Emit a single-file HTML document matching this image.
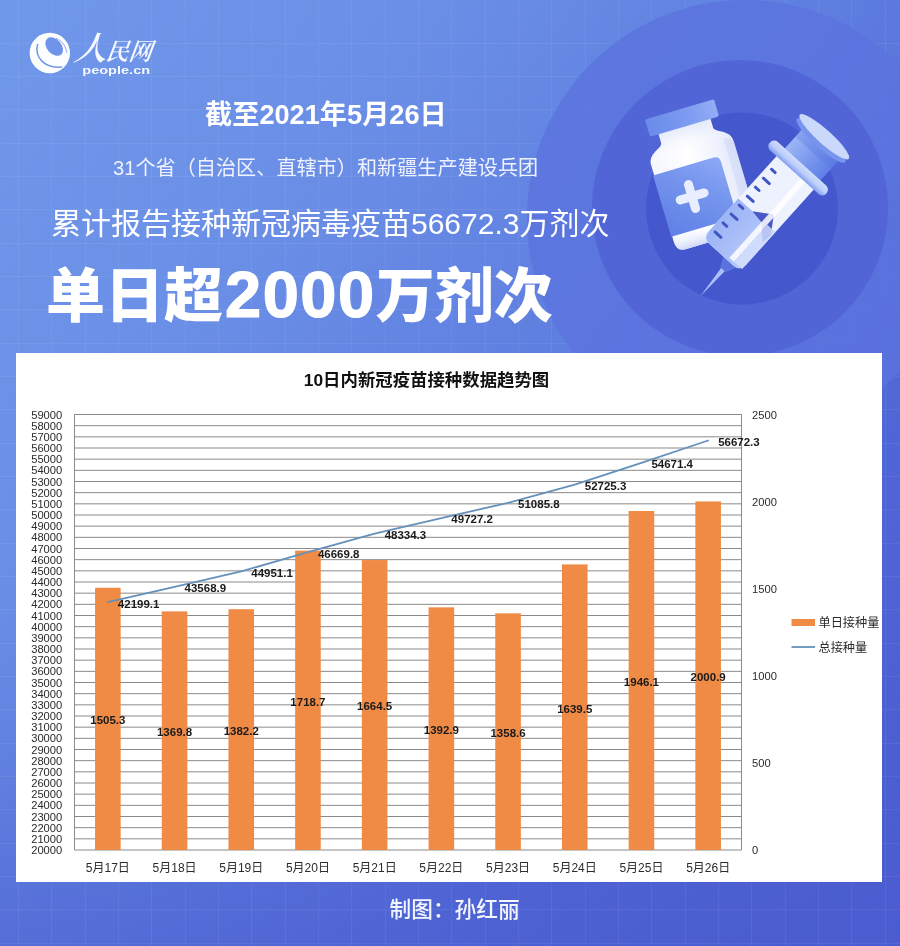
<!DOCTYPE html>
<html lang="zh-CN"><head><meta charset="utf-8"><title>新冠疫苗接种数据</title>
<style>
html,body{margin:0;padding:0}
body{width:900px;height:946px;overflow:hidden;position:relative;font-family:"Liberation Sans","Noto Sans CJK SC",sans-serif;
background:repeating-linear-gradient(to right,transparent 0,transparent 18px,rgba(255,255,255,.06) 18px,rgba(255,255,255,.06) 19px,transparent 19px,transparent 33.333px),repeating-linear-gradient(to bottom,transparent 0,transparent 9.5px,rgba(255,255,255,.06) 9.5px,rgba(255,255,255,.06) 10.5px,transparent 10.5px,transparent 33.333px),linear-gradient(to bottom,rgba(74,93,207,0) 65%,rgba(74,93,207,.1) 75%,rgba(74,93,207,.3) 88%,rgba(74,93,207,.55) 100%),linear-gradient(128deg,#7098ea 0%,#6a8ee6 28%,#5f7fe0 50%,#5166d6 75%,#4a5bcf 100%)}
.abs{position:absolute}
#h4 span{font-size:65px;letter-spacing:1.5px;-webkit-text-stroke:1.2px #fff;margin-left:2px}
svg{position:absolute;left:0;top:0}
.h{position:absolute;white-space:nowrap;color:#fff;line-height:1}
#h1{left:205px;top:101px;font-size:27.2px;font-weight:700}
#h2{left:113px;top:158px;font-size:20.15px;font-weight:400;color:#eef2ff}
#h3{left:51px;top:209px;font-size:30px;font-weight:400}
#h4{left:46px;top:260px;font-size:59px;line-height:70px;height:70px;font-weight:900;font-family:"Liberation Sans","Noto Sans CJK SC",sans-serif}
#ft{left:389.5px;top:898.5px;font-size:21.7px;color:#f4f6ff;font-weight:500}
#panel{left:16px;top:353px;width:866px;height:529px;background:#fff}
.ax{font-size:11.2px;fill:#2b2b2b;font-family:"Liberation Sans",sans-serif}
.dl{font-size:11.5px;font-weight:700;fill:#1a1a1a;font-family:"Liberation Sans",sans-serif}
.xl{font-size:12px;fill:#2b2b2b;font-family:"Liberation Sans","Noto Sans CJK SC",sans-serif}
.lg{font-size:12.2px;fill:#2b2b2b;font-family:"Liberation Sans","Noto Sans CJK SC",sans-serif}
.ct{font-size:17.4px;font-weight:700;fill:#111;font-family:"Liberation Sans","Noto Sans CJK SC",sans-serif}
</style></head><body>
<svg width="900" height="946" viewBox="0 0 900 946">
<circle cx="745" cy="218" r="218" fill="#5b73de" opacity=".8"/>
<circle cx="740" cy="208" r="148" fill="#5165d7"/>
<circle cx="742" cy="208.5" r="96" fill="#4557cd"/>
<defs>
<linearGradient id="gCap" x1="0" y1="0" x2="1" y2="0"><stop offset="0" stop-color="#6a8beb"/><stop offset=".55" stop-color="#7b9af0"/><stop offset="1" stop-color="#93adf6"/></linearGradient>
<linearGradient id="gBody" x1="0" y1="0" x2="1" y2="0"><stop offset="0" stop-color="#f4f6ff"/><stop offset=".45" stop-color="#ffffff"/><stop offset=".8" stop-color="#eef1fd"/><stop offset="1" stop-color="#dfe5fa"/></linearGradient>
<linearGradient id="gBodyV" x1="0" y1="0" x2="0" y2="1"><stop offset="0" stop-color="#dfe6fb" stop-opacity=".9"/><stop offset=".25" stop-color="#ffffff" stop-opacity="0"/><stop offset=".85" stop-color="#ffffff" stop-opacity="0"/><stop offset="1" stop-color="#c9d4f8" stop-opacity=".9"/></linearGradient>
<linearGradient id="gLabel" x1="0" y1="1" x2="1" y2="0"><stop offset="0" stop-color="#5f80e5"/><stop offset=".6" stop-color="#7595ee"/><stop offset="1" stop-color="#8ea9f5"/></linearGradient>
<linearGradient id="gBarrel" x1="0" y1="0" x2="1" y2="0"><stop offset="0" stop-color="#9db5f6"/><stop offset=".5" stop-color="#a9bef8"/><stop offset="1" stop-color="#b9cbfa"/></linearGradient>
<linearGradient id="gRod" x1="0" y1="0" x2="1" y2="0"><stop offset="0" stop-color="#9db6f6"/><stop offset=".45" stop-color="#7f9cf0"/><stop offset="1" stop-color="#5f7fe6"/></linearGradient>
<linearGradient id="gFl" x1="0" y1="0" x2="0" y2="1"><stop offset="0" stop-color="#cfdcfc"/><stop offset=".55" stop-color="#bccdfa"/><stop offset="1" stop-color="#7f9cef"/></linearGradient>
</defs>
<g id="vial" transform="translate(679.4,109.3) rotate(-16.5)">
<path d="M-27 16 H27 V27 C27 33 43 33 43 46 V126 Q43 136 33 136 H-33 Q-43 136 -43 126 V46 C-43 33 -27 33 -27 27 Z" fill="url(#gBody)"/>
<path d="M-27 16 H27 V27 C27 33 43 33 43 46 V126 Q43 136 33 136 H-33 Q-43 136 -43 126 V46 C-43 33 -27 33 -27 27 Z" fill="url(#gBodyV)"/>
<path d="M-44 56 H19 Q25 56 25 62 V120 H-44 Z" fill="url(#gLabel)"/>
<path d="M34 40 C40 42 43 44 43 48 V126 Q43 132 39 134 H33 Z" fill="#cfd8f7" opacity=".55"/>
<rect x="-36" y="0" width="72" height="18" rx="2" fill="url(#gCap)"/>
<g fill="#e9eefe"><rect x="-29.5" y="82.7" width="34" height="9" rx="4.5"/><rect x="-17.2" y="70.2" width="9" height="34" rx="4.5"/></g>
</g>
<g id="syringe" transform="translate(726.1,249.5) rotate(42)">
<polygon points="8.5,15 13.5,15 12.2,52" fill="#a9c0f8"/>
<polygon points="1,4 21,4 15,17 7.5,17" fill="#5b72dc"/>
<!-- plunger rod -->
<rect x="-24" y="-147" width="48" height="37" fill="url(#gRod)"/>
<rect x="-24" y="-147" width="48" height="17" fill="#4f6fe0" opacity=".28"/>
<!-- thumb disc -->
<ellipse cx="-2.5" cy="-144.5" rx="32.5" ry="7" fill="#7795ed"/>
<ellipse cx="-2.5" cy="-149.5" rx="33" ry="7" fill="#cad8fc"/>
<!-- barrel -->
<path d="M-25 -104 H25 V-2 Q25 7 16 7 H-16 Q-25 7 -25 -2 Z" fill="#eef2fe"/>
<path d="M-25 -46 H25 V-2 Q25 7 16 7 H-16 Q-25 7 -25 -2 Z" fill="url(#gBarrel)"/>
<path d="M-6 -46 L12 -58 L24 -40 L22 -30 L8 -44 Z" fill="#4a57c6"/>
<rect x="8" y="-104" width="6" height="108" fill="#ffffff" opacity=".85"/>
<rect x="14" y="-46" width="11" height="50" fill="#d6e1fc" opacity=".8"/>
<g stroke="#4256c2" stroke-width="3" stroke-linecap="round">
<line x1="-20" y1="-5.6" x2="-12" y2="-5.6"/><line x1="-20" y1="-17.7" x2="-15" y2="-17.7"/>
<line x1="-20" y1="-29.7" x2="-12" y2="-29.7"/><line x1="-20" y1="-41.8" x2="-15" y2="-41.8"/>
<line x1="-20" y1="-53.8" x2="-12" y2="-53.8"/><line x1="-20" y1="-65.9" x2="-15" y2="-65.9"/>
<line x1="-20" y1="-77.9" x2="-12" y2="-77.9"/><line x1="-20" y1="-90" x2="-15" y2="-90"/>
</g>
<!-- flange -->
<rect x="-39" y="-114.5" width="76" height="11.5" rx="5.5" fill="url(#gFl)"/>
</g>

<g id="logo">
<circle cx="49.8" cy="53" r="20.2" fill="#fbfdff"/>
<ellipse cx="54.2" cy="46.6" rx="7.2" ry="10.6" transform="rotate(-42 54.2 46.6)" fill="#6f94e9"/>
<path d="M37.6 44.5 C34.5 56 43 68.5 61.5 67" fill="none" stroke="#7596e6" stroke-width="1.5" stroke-linecap="round"/>
<path d="M56.5 38.5 C62 41 66 46 66.8 52.5" fill="none" stroke="#8eaaee" stroke-width="1" stroke-linecap="round"/>
<g fill="#f6f9ff" font-family="'Liberation Serif','Noto Serif CJK SC',serif" font-weight="600" font-style="italic">
<text x="73" y="60" font-size="33" transform="skewX(-8)" style="transform-origin:73px 60px">人</text>
<text x="105" y="60.5" font-size="24" transform="skewX(-8)" style="transform-origin:105px 60px" textLength="46" lengthAdjust="spacingAndGlyphs">民网</text>
</g>
<text x="82.3" y="74.2" font-family="'Liberation Sans',sans-serif" font-weight="700" font-size="11.6" fill="#f3f7ff" textLength="67.8" lengthAdjust="spacingAndGlyphs">people.cn</text>
</g>

</svg>
<div class="h" id="h1">截至2021年5月26日</div>
<div class="h" id="h2">31个省（自治区、直辖市）和新疆生产建设兵团</div>
<div class="h" id="h3">累计报告接种新冠病毒疫苗56672.3万剂次</div>
<div class="h" id="h4">单日超<span>2000</span>万剂次</div>
<div class="abs" id="panel"></div>
<svg width="900" height="946" viewBox="0 0 900 946">
<line x1="74.5" y1="414.50" x2="741.5" y2="414.50" stroke="#8a8a8a" stroke-width="1"/>
<line x1="74.5" y1="425.67" x2="741.5" y2="425.67" stroke="#8a8a8a" stroke-width="1"/>
<line x1="74.5" y1="436.83" x2="741.5" y2="436.83" stroke="#8a8a8a" stroke-width="1"/>
<line x1="74.5" y1="448.00" x2="741.5" y2="448.00" stroke="#8a8a8a" stroke-width="1"/>
<line x1="74.5" y1="459.17" x2="741.5" y2="459.17" stroke="#8a8a8a" stroke-width="1"/>
<line x1="74.5" y1="470.33" x2="741.5" y2="470.33" stroke="#8a8a8a" stroke-width="1"/>
<line x1="74.5" y1="481.50" x2="741.5" y2="481.50" stroke="#8a8a8a" stroke-width="1"/>
<line x1="74.5" y1="492.67" x2="741.5" y2="492.67" stroke="#8a8a8a" stroke-width="1"/>
<line x1="74.5" y1="503.83" x2="741.5" y2="503.83" stroke="#8a8a8a" stroke-width="1"/>
<line x1="74.5" y1="515.00" x2="741.5" y2="515.00" stroke="#8a8a8a" stroke-width="1"/>
<line x1="74.5" y1="526.17" x2="741.5" y2="526.17" stroke="#8a8a8a" stroke-width="1"/>
<line x1="74.5" y1="537.33" x2="741.5" y2="537.33" stroke="#8a8a8a" stroke-width="1"/>
<line x1="74.5" y1="548.50" x2="741.5" y2="548.50" stroke="#8a8a8a" stroke-width="1"/>
<line x1="74.5" y1="559.67" x2="741.5" y2="559.67" stroke="#8a8a8a" stroke-width="1"/>
<line x1="74.5" y1="570.83" x2="741.5" y2="570.83" stroke="#8a8a8a" stroke-width="1"/>
<line x1="74.5" y1="582.00" x2="741.5" y2="582.00" stroke="#8a8a8a" stroke-width="1"/>
<line x1="74.5" y1="593.17" x2="741.5" y2="593.17" stroke="#8a8a8a" stroke-width="1"/>
<line x1="74.5" y1="604.33" x2="741.5" y2="604.33" stroke="#8a8a8a" stroke-width="1"/>
<line x1="74.5" y1="615.50" x2="741.5" y2="615.50" stroke="#8a8a8a" stroke-width="1"/>
<line x1="74.5" y1="626.67" x2="741.5" y2="626.67" stroke="#8a8a8a" stroke-width="1"/>
<line x1="74.5" y1="637.83" x2="741.5" y2="637.83" stroke="#8a8a8a" stroke-width="1"/>
<line x1="74.5" y1="649.00" x2="741.5" y2="649.00" stroke="#8a8a8a" stroke-width="1"/>
<line x1="74.5" y1="660.17" x2="741.5" y2="660.17" stroke="#8a8a8a" stroke-width="1"/>
<line x1="74.5" y1="671.33" x2="741.5" y2="671.33" stroke="#8a8a8a" stroke-width="1"/>
<line x1="74.5" y1="682.50" x2="741.5" y2="682.50" stroke="#8a8a8a" stroke-width="1"/>
<line x1="74.5" y1="693.67" x2="741.5" y2="693.67" stroke="#8a8a8a" stroke-width="1"/>
<line x1="74.5" y1="704.83" x2="741.5" y2="704.83" stroke="#8a8a8a" stroke-width="1"/>
<line x1="74.5" y1="716.00" x2="741.5" y2="716.00" stroke="#8a8a8a" stroke-width="1"/>
<line x1="74.5" y1="727.17" x2="741.5" y2="727.17" stroke="#8a8a8a" stroke-width="1"/>
<line x1="74.5" y1="738.33" x2="741.5" y2="738.33" stroke="#8a8a8a" stroke-width="1"/>
<line x1="74.5" y1="749.50" x2="741.5" y2="749.50" stroke="#8a8a8a" stroke-width="1"/>
<line x1="74.5" y1="760.67" x2="741.5" y2="760.67" stroke="#8a8a8a" stroke-width="1"/>
<line x1="74.5" y1="771.83" x2="741.5" y2="771.83" stroke="#8a8a8a" stroke-width="1"/>
<line x1="74.5" y1="783.00" x2="741.5" y2="783.00" stroke="#8a8a8a" stroke-width="1"/>
<line x1="74.5" y1="794.17" x2="741.5" y2="794.17" stroke="#8a8a8a" stroke-width="1"/>
<line x1="74.5" y1="805.33" x2="741.5" y2="805.33" stroke="#8a8a8a" stroke-width="1"/>
<line x1="74.5" y1="816.50" x2="741.5" y2="816.50" stroke="#8a8a8a" stroke-width="1"/>
<line x1="74.5" y1="827.67" x2="741.5" y2="827.67" stroke="#8a8a8a" stroke-width="1"/>
<line x1="74.5" y1="838.83" x2="741.5" y2="838.83" stroke="#8a8a8a" stroke-width="1"/>
<line x1="74.5" y1="850.00" x2="741.5" y2="850.00" stroke="#8a8a8a" stroke-width="1"/>
<line x1="74.5" y1="414.5" x2="74.5" y2="850.0" stroke="#8a8a8a" stroke-width="1"/>
<line x1="741.5" y1="414.5" x2="741.5" y2="850.0" stroke="#8a8a8a" stroke-width="1"/>
<text x="62.3" y="418.50" text-anchor="end" class="ax">59000</text>
<text x="62.3" y="429.67" text-anchor="end" class="ax">58000</text>
<text x="62.3" y="440.83" text-anchor="end" class="ax">57000</text>
<text x="62.3" y="452.00" text-anchor="end" class="ax">56000</text>
<text x="62.3" y="463.17" text-anchor="end" class="ax">55000</text>
<text x="62.3" y="474.33" text-anchor="end" class="ax">54000</text>
<text x="62.3" y="485.50" text-anchor="end" class="ax">53000</text>
<text x="62.3" y="496.67" text-anchor="end" class="ax">52000</text>
<text x="62.3" y="507.83" text-anchor="end" class="ax">51000</text>
<text x="62.3" y="519.00" text-anchor="end" class="ax">50000</text>
<text x="62.3" y="530.17" text-anchor="end" class="ax">49000</text>
<text x="62.3" y="541.33" text-anchor="end" class="ax">48000</text>
<text x="62.3" y="552.50" text-anchor="end" class="ax">47000</text>
<text x="62.3" y="563.67" text-anchor="end" class="ax">46000</text>
<text x="62.3" y="574.83" text-anchor="end" class="ax">45000</text>
<text x="62.3" y="586.00" text-anchor="end" class="ax">44000</text>
<text x="62.3" y="597.17" text-anchor="end" class="ax">43000</text>
<text x="62.3" y="608.33" text-anchor="end" class="ax">42000</text>
<text x="62.3" y="619.50" text-anchor="end" class="ax">41000</text>
<text x="62.3" y="630.67" text-anchor="end" class="ax">40000</text>
<text x="62.3" y="641.83" text-anchor="end" class="ax">39000</text>
<text x="62.3" y="653.00" text-anchor="end" class="ax">38000</text>
<text x="62.3" y="664.17" text-anchor="end" class="ax">37000</text>
<text x="62.3" y="675.33" text-anchor="end" class="ax">36000</text>
<text x="62.3" y="686.50" text-anchor="end" class="ax">35000</text>
<text x="62.3" y="697.67" text-anchor="end" class="ax">34000</text>
<text x="62.3" y="708.83" text-anchor="end" class="ax">33000</text>
<text x="62.3" y="720.00" text-anchor="end" class="ax">32000</text>
<text x="62.3" y="731.17" text-anchor="end" class="ax">31000</text>
<text x="62.3" y="742.33" text-anchor="end" class="ax">30000</text>
<text x="62.3" y="753.50" text-anchor="end" class="ax">29000</text>
<text x="62.3" y="764.67" text-anchor="end" class="ax">28000</text>
<text x="62.3" y="775.83" text-anchor="end" class="ax">27000</text>
<text x="62.3" y="787.00" text-anchor="end" class="ax">26000</text>
<text x="62.3" y="798.17" text-anchor="end" class="ax">25000</text>
<text x="62.3" y="809.33" text-anchor="end" class="ax">24000</text>
<text x="62.3" y="820.50" text-anchor="end" class="ax">23000</text>
<text x="62.3" y="831.67" text-anchor="end" class="ax">22000</text>
<text x="62.3" y="842.83" text-anchor="end" class="ax">21000</text>
<text x="62.3" y="854.00" text-anchor="end" class="ax">20000</text>
<text x="752" y="854.00" class="ax">0</text>
<text x="752" y="766.90" class="ax">500</text>
<text x="752" y="679.80" class="ax">1000</text>
<text x="752" y="592.70" class="ax">1500</text>
<text x="752" y="505.60" class="ax">2000</text>
<text x="752" y="418.50" class="ax">2500</text>
<rect x="95.05" y="587.78" width="25.6" height="262.22" fill="#f08b45"/>
<rect x="161.75" y="611.38" width="25.6" height="238.62" fill="#f08b45"/>
<rect x="228.45" y="609.22" width="25.6" height="240.78" fill="#f08b45"/>
<rect x="295.15" y="550.60" width="25.6" height="299.40" fill="#f08b45"/>
<rect x="361.85" y="560.04" width="25.6" height="289.96" fill="#f08b45"/>
<rect x="428.55" y="607.36" width="25.6" height="242.64" fill="#f08b45"/>
<rect x="495.25" y="613.33" width="25.6" height="236.67" fill="#f08b45"/>
<rect x="561.95" y="564.40" width="25.6" height="285.60" fill="#f08b45"/>
<rect x="628.65" y="510.99" width="25.6" height="339.01" fill="#f08b45"/>
<rect x="695.35" y="501.44" width="25.6" height="348.56" fill="#f08b45"/>
<polyline points="107.85,602.11 174.55,586.81 241.25,571.38 307.95,552.19 374.65,533.60 441.35,518.05 508.05,502.88 574.75,484.57 641.45,462.84 708.15,440.49" fill="none" stroke="#6590b9" stroke-width="1.8" stroke-linejoin="round" stroke-linecap="round"/>
<text x="107.85" y="724.19" text-anchor="middle" class="dl">1505.3</text>
<text x="174.55" y="735.99" text-anchor="middle" class="dl">1369.8</text>
<text x="241.25" y="734.91" text-anchor="middle" class="dl">1382.2</text>
<text x="307.95" y="705.60" text-anchor="middle" class="dl">1718.7</text>
<text x="374.65" y="710.32" text-anchor="middle" class="dl">1664.5</text>
<text x="441.35" y="733.98" text-anchor="middle" class="dl">1392.9</text>
<text x="508.05" y="736.97" text-anchor="middle" class="dl">1358.6</text>
<text x="574.75" y="712.50" text-anchor="middle" class="dl">1639.5</text>
<text x="641.45" y="685.79" text-anchor="middle" class="dl">1946.1</text>
<text x="708.15" y="681.02" text-anchor="middle" class="dl">2000.9</text>
<text x="117.85" y="607.51" class="dl">42199.1</text>
<text x="184.55" y="592.21" class="dl">43568.9</text>
<text x="251.25" y="576.78" class="dl">44951.1</text>
<text x="317.95" y="557.59" class="dl">46669.8</text>
<text x="384.65" y="539.00" class="dl">48334.3</text>
<text x="451.35" y="523.45" class="dl">49727.2</text>
<text x="518.05" y="508.28" class="dl">51085.8</text>
<text x="584.75" y="489.97" class="dl">52725.3</text>
<text x="651.45" y="468.24" class="dl">54671.4</text>
<text x="718.15" y="445.89" class="dl">56672.3</text>
<text x="107.85" y="871.5" text-anchor="middle" class="xl">5月17日</text>
<text x="174.55" y="871.5" text-anchor="middle" class="xl">5月18日</text>
<text x="241.25" y="871.5" text-anchor="middle" class="xl">5月19日</text>
<text x="307.95" y="871.5" text-anchor="middle" class="xl">5月20日</text>
<text x="374.65" y="871.5" text-anchor="middle" class="xl">5月21日</text>
<text x="441.35" y="871.5" text-anchor="middle" class="xl">5月22日</text>
<text x="508.05" y="871.5" text-anchor="middle" class="xl">5月23日</text>
<text x="574.75" y="871.5" text-anchor="middle" class="xl">5月24日</text>
<text x="641.45" y="871.5" text-anchor="middle" class="xl">5月25日</text>
<text x="708.15" y="871.5" text-anchor="middle" class="xl">5月26日</text>
<rect x="791.5" y="619" width="23.5" height="7" fill="#f08b45"/>
<text x="818.5" y="626.5" class="lg">单日接种量</text>
<line x1="791.5" y1="647" x2="815" y2="647" stroke="#6590b9" stroke-width="1.8"/>
<text x="818.5" y="651.5" class="lg">总接种量</text>
<text x="426.5" y="385.5" text-anchor="middle" class="ct">10日内新冠疫苗接种数据趋势图</text>
</svg>
<div class="h" id="ft">制图：孙红丽</div>
</body></html>
